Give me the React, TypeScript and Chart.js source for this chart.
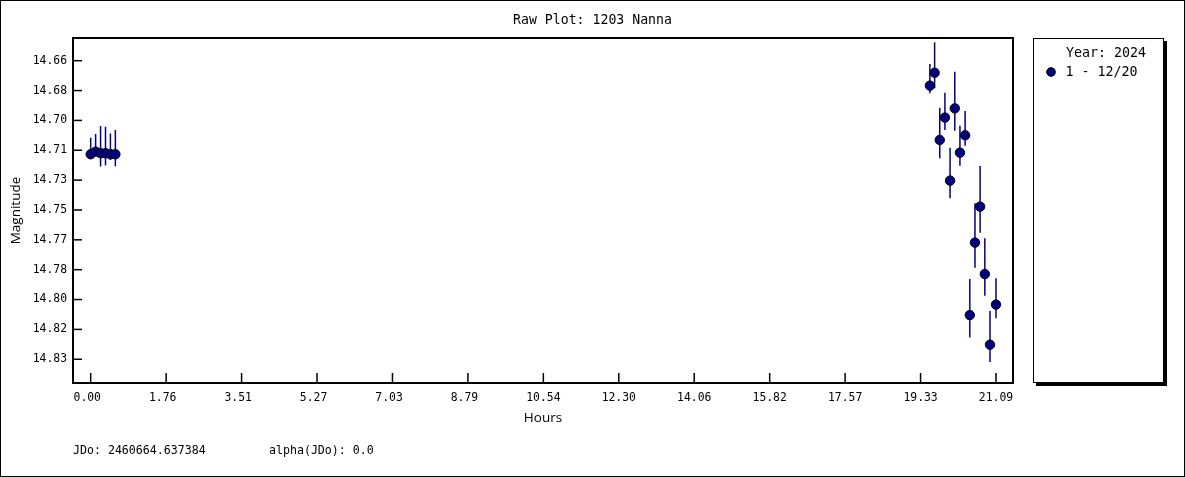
import React, { useEffect, useRef } from "react";
import { Chart, registerables } from "chart.js";

Chart.register(...registerables);

// ---- data ----
const HOURS = [0, 0.115, 0.23, 0.345, 0.46, 0.575, 19.55, 19.66, 19.78, 19.9, 20.02, 20.13, 20.25, 20.37, 20.48, 20.6, 20.72, 20.83, 20.95, 21.09];
const MAGNITUDE = [14.7166, 14.7151, 14.716, 14.716, 14.7166, 14.7166, 14.6773, 14.6699, 14.7084, 14.6956, 14.7317, 14.6903, 14.7157, 14.7057, 14.8087, 14.7672, 14.7466, 14.7852, 14.8257, 14.8027];
const MAG_BAR_TOP = [14.7071, 14.705, 14.7004, 14.7008, 14.7047, 14.7027, 14.6649, 14.6525, 14.6899, 14.6813, 14.7128, 14.6693, 14.7002, 14.6918, 14.788, 14.7447, 14.7233, 14.7647, 14.8064, 14.7876];
const MAG_BAR_BOTTOM = [14.7182, 14.7173, 14.7236, 14.723, 14.7199, 14.7235, 14.6817, 14.6788, 14.7189, 14.7027, 14.7418, 14.7031, 14.7231, 14.7117, 14.8216, 14.7816, 14.7615, 14.7976, 14.8356, 14.8105];

const X_TICKS = [0, 1.7575, 3.515, 5.2725, 7.03, 8.7875, 10.545, 12.3025, 14.06, 15.8175, 17.575, 19.3325, 21.09];
const X_TICK_LABELS = ["0.00", "1.76", "3.51", "5.27", "7.03", "8.79", "10.54", "12.30", "14.06", "15.82", "17.57", "19.33", "21.09"];
const Y_TICKS = [14.663, 14.6801, 14.6972, 14.7143, 14.7314, 14.7485, 14.7656, 14.7827, 14.7998, 14.8169, 14.834];
const Y_TICK_LABELS = ["14.66", "14.68", "14.70", "14.71", "14.73", "14.75", "14.77", "14.78", "14.80", "14.82", "14.83"];

const TITLE = "Raw Plot: 1203 Nanna";
const X_TITLE = "Hours";
const Y_TITLE = "Magnitude";
const LEGEND_TITLE = "Year: 2024";
const SERIES_LABEL = "1 - 12/20";
const FOOTER_JDO = "JDo: 2460664.637384";
const FOOTER_ALPHA = "alpha(JDo): 0.0";

const W = 1185;
const H = 477;
const MONO = '"DejaVu Sans Mono", "Liberation Mono", monospace';
const SANS = '"Open Sans", "Noto Sans", sans-serif';
const NAVY = "#000080";

const decorPlugin = {
  id: "decor",
  beforeDraw(chart: any) {
    const ctx = chart.ctx as CanvasRenderingContext2D;
    ctx.save();
    ctx.fillStyle = "#fff";
    ctx.fillRect(0, 0, W, H);
    ctx.restore();
  },
  beforeDatasetsDraw(chart: any) {
    const ctx = chart.ctx as CanvasRenderingContext2D;
    const xs = chart.scales.x;
    const ys = chart.scales.y;
    const a = chart.chartArea;
    ctx.save();
    ctx.beginPath();
    ctx.rect(a.left, a.top, a.right - a.left, a.bottom - a.top);
    ctx.clip();
    ctx.strokeStyle = NAVY;
    ctx.lineWidth = 1.5;
    for (let i = 0; i < HOURS.length; i++) {
      const px = xs.getPixelForValue(HOURS[i]);
      ctx.beginPath();
      ctx.moveTo(px, ys.getPixelForValue(MAG_BAR_TOP[i]));
      ctx.lineTo(px, ys.getPixelForValue(MAG_BAR_BOTTOM[i]));
      ctx.stroke();
    }
    ctx.restore();
  },
  afterDraw(chart: any) {
    const ctx = chart.ctx as CanvasRenderingContext2D;
    const xs = chart.scales.x;
    const ys = chart.scales.y;
    const a = chart.chartArea;
    ctx.save();
    // outer frame
    ctx.strokeStyle = "#000";
    ctx.lineWidth = 1;
    ctx.strokeRect(0.5, 0.5, W - 1, H - 1);
    // plot frame
    ctx.lineWidth = 2;
    ctx.strokeRect(a.left, a.top, a.right - a.left, a.bottom - a.top);
    // inward tick marks
    ctx.lineWidth = 1.5;
    for (const v of Y_TICKS) {
      const py = ys.getPixelForValue(v);
      ctx.beginPath();
      ctx.moveTo(a.left, py);
      ctx.lineTo(a.left + 9, py);
      ctx.stroke();
    }
    for (const v of X_TICKS) {
      const px = xs.getPixelForValue(v);
      ctx.beginPath();
      ctx.moveTo(px, a.bottom);
      ctx.lineTo(px, a.bottom - 10);
      ctx.stroke();
    }
    // texts
    ctx.fillStyle = "#000";
    ctx.textBaseline = "middle";
    ctx.textAlign = "center";
    ctx.font = `13.2px ${MONO}`;
    ctx.fillText(TITLE, W / 2, 20.5);
    ctx.font = `13.5px ${SANS}`;
    ctx.fillText(X_TITLE, (a.left + a.right) / 2, 418.5);
    ctx.save();
    ctx.translate(16, (a.top + a.bottom) / 2);
    ctx.rotate(-Math.PI / 2);
    ctx.fillText(Y_TITLE, 0, 0);
    ctx.restore();
    ctx.textAlign = "left";
    ctx.font = `11.6px ${MONO}`;
    ctx.fillText(FOOTER_JDO, 73, 451);
    ctx.fillText(FOOTER_ALPHA, 269, 451);
    // legend box
    const lx = 1033, ly = 38, lw = 131, lh = 345;
    ctx.fillStyle = "#000";
    ctx.fillRect(lx + 3, ly + 3, lw, lh);
    ctx.fillStyle = "#fff";
    ctx.fillRect(lx, ly, lw, lh);
    ctx.lineWidth = 1;
    ctx.strokeStyle = "#000";
    ctx.strokeRect(lx + 0.5, ly + 0.5, lw - 1, lh - 1);
    ctx.fillStyle = "#000";
    ctx.font = `13.3px ${MONO}`;
    ctx.fillText(LEGEND_TITLE, 1066, 54);
    ctx.fillText(SERIES_LABEL, 1065.5, 73);
    ctx.beginPath();
    ctx.arc(1051, 72, 4.3, 0, Math.PI * 2);
    ctx.fillStyle = NAVY;
    ctx.fill();
    ctx.strokeStyle = "#000";
    ctx.lineWidth = 1;
    ctx.stroke();
    ctx.restore();
  },
};

export default function App() {
  const ref = useRef<HTMLCanvasElement | null>(null);

  useEffect(() => {
    document.body.style.margin = "0";
    const canvas = ref.current;
    if (!canvas) return;
    const chart = new Chart(canvas, {
      type: "scatter",
      data: {
        datasets: [
          {
            label: SERIES_LABEL,
            data: HOURS.map((h, i) => ({ x: h, y: MAGNITUDE[i] })),
            backgroundColor: NAVY,
            borderColor: "#000",
            borderWidth: 1,
            pointRadius: 4.7,
            pointHoverRadius: 4.7,
          },
        ],
      },
      options: {
        responsive: false,
        animation: false,
        devicePixelRatio: 1,
        events: [],
        layout: { padding: { left: 0, right: W - 1013, top: 38, bottom: 64 } },
        plugins: {
          legend: { display: false },
          title: { display: false },
          tooltip: { enabled: false },
        },
        scales: {
          x: {
            type: "linear",
            min: -0.412,
            max: 21.486,
            grid: { display: false, drawTicks: false },
            border: { display: false },
            afterFit: (s: any) => {
              s.height = 30;
            },
            afterBuildTicks: (s: any) => {
              s.ticks = X_TICKS.map((v) => ({ value: v }));
            },
            ticks: {
              autoSkip: false,
              maxRotation: 0,
              padding: 8,
              color: "#000",
              font: { family: MONO, size: 11.4 },
              callback: (_v: any, i: number) => X_TICK_LABELS[i].padEnd(5, " "),
            },
          },
          y: {
            type: "linear",
            reverse: true,
            min: 14.65,
            max: 14.8476,
            grid: { display: false, drawTicks: false },
            border: { display: false },
            afterFit: (s: any) => {
              s.width = 73;
            },
            afterBuildTicks: (s: any) => {
              s.ticks = Y_TICKS.map((v) => ({ value: v }));
            },
            ticks: {
              autoSkip: false,
              padding: 6,
              color: "#000",
              font: { family: MONO, size: 11.4 },
              callback: (_v: any, i: number) => Y_TICK_LABELS[i],
            },
          },
        },
      },
      plugins: [decorPlugin],
    });
    return () => chart.destroy();
  }, []);

  return (
    <div style={{ width: W, height: H }}>
      <canvas ref={ref} width={W} height={H} style={{ display: "block", width: W, height: H }} />
    </div>
  );
}
